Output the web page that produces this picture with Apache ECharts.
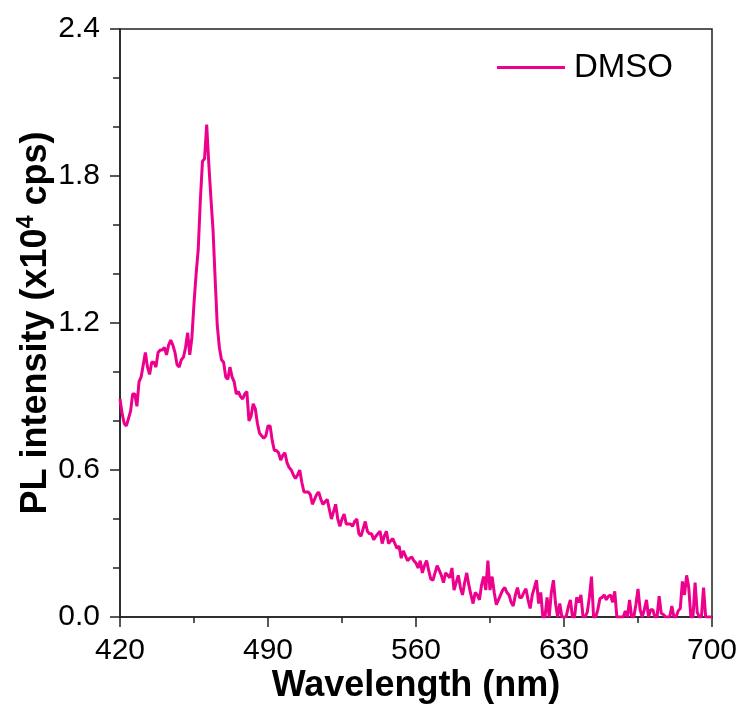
<!DOCTYPE html>
<html>
<head>
<meta charset="utf-8">
<script src="https://cdn.jsdelivr.net/npm/echarts@6/dist/echarts.min.js"></script>
<style>html,body{margin:0;padding:0;background:#fff;}#c{width:742px;height:709px;}</style>
</head>
<body>
<div id="c"></div>
<script>
// Wavelength start / step (nm)
const wlStart = 420;
const wlStep = 1;
// PL intensity (x10^4 cps), 420..700 nm, one value per nm
const dmso = [
  0.89,0.83,0.79,0.78,0.81,0.84,0.91,0.91,0.86,0.96,
  0.98,1.03,1.08,1.02,0.99,1.04,1.04,1.02,1.08,1.09,
  1.09,1.10,1.07,1.11,1.13,1.11,1.08,1.03,1.02,1.05,
  1.06,1.10,1.16,1.07,1.14,1.28,1.40,1.50,1.70,1.86,
  1.87,2.01,1.85,1.71,1.58,1.38,1.19,1.10,1.05,1.04,
  0.98,0.97,1.02,0.98,0.96,0.91,0.92,0.90,0.89,0.91,
  0.92,0.80,0.82,0.87,0.85,0.79,0.75,0.74,0.73,0.74,
  0.78,0.78,0.72,0.68,0.68,0.67,0.64,0.66,0.67,0.63,
  0.61,0.60,0.58,0.565,0.58,0.60,0.55,0.51,0.51,0.51,
  0.50,0.46,0.48,0.50,0.51,0.48,0.46,0.47,0.48,0.44,
  0.40,0.43,0.46,0.40,0.37,0.40,0.42,0.38,0.38,0.38,
  0.37,0.39,0.40,0.34,0.33,0.36,0.39,0.35,0.34,0.34,
  0.315,0.33,0.34,0.35,0.30,0.33,0.35,0.30,0.31,0.32,
  0.30,0.28,0.29,0.24,0.27,0.25,0.23,0.24,0.245,0.23,
  0.22,0.20,0.23,0.18,0.21,0.23,0.19,0.155,0.15,0.18,
  0.21,0.19,0.17,0.14,0.18,0.17,0.16,0.20,0.11,0.14,
  0.17,0.12,0.09,0.14,0.18,0.13,0.09,0.055,0.10,0.09,
  0.07,0.13,0.165,0.11,0.23,0.11,0.165,0.10,0.05,0.07,
  0.09,0.11,0.12,0.10,0.09,0.06,0.045,0.09,0.12,0.08,
  0.08,0.10,0.115,0.07,0.035,0.09,0.12,0.15,0.055,0.10,
  0,0,0.08,0,0.10,0.15,0.055,0,0.055,0,
  0,0,0.04,0.07,0,0,0.08,0.06,0.09,0,
  0,0.02,0.08,0.165,0,0,0.03,0.075,0.08,0.09,
  0.07,0.085,0.09,0.06,0.105,0,0,0,0,0.025,
  0,0.07,0,0,0.05,0.115,0.03,0,0.03,0.07,
  0,0.03,0.03,0,0,0.085,0.015,0.01,0,0,
  0,0.045,0,0,0.025,0.035,0.145,0.09,0.17,0.12,
  0,0,0.14,0.02,0,0,0.12,0,0,0,
  0
];
const xTicks = [420, 490, 560, 630, 700];
const yTicks = [0.0, 0.6, 1.2, 1.8, 2.4];
const seriesName = 'DMSO';

const points = dmso.map((v, i) => [wlStart + i * wlStep, v]);
const axisColor = '#222';
const font = 'Liberation Sans, Arial, sans-serif';

const chart = echarts.init(document.getElementById('c'), null, {renderer: 'canvas'});
chart.setOption({
  animation: false,
  backgroundColor: '#fff',
  grid: {left: 120, right: 30, top: 29, bottom: 88, show: true, borderColor: axisColor, borderWidth: 1.5, backgroundColor: 'transparent'},
  legend: {
    data: [{name: seriesName, icon: 'rect'}],
    left: 497, top: 51, padding: 0,
    itemWidth: 68, itemHeight: 3, itemGap: 10,
    textStyle: {fontFamily: font, fontSize: 33, color: '#000', padding: [0,0,0,4]}
  },
  xAxis: {
    type: 'value', min: xTicks[0], max: xTicks[xTicks.length-1], interval: 70,
    name: 'Wavelength (nm)', nameLocation: 'middle', nameGap: 51, nameMoveOverlap: false,
    nameTextStyle: {fontFamily: font, fontSize: 36, fontWeight: 'bold', color: '#000'},
    axisLine: {show: true, onZero: false, lineStyle: {color: axisColor, width: 1.5}},
    axisTick: {show: true, inside: false, length: 10, lineStyle: {color: axisColor, width: 1.5}},
    minorTick: {show: true, splitNumber: 2, length: 6, lineStyle: {color: axisColor, width: 1.5}},
    axisLabel: {margin: 19, fontFamily: font, fontSize: 30, color: '#000'},
    splitLine: {show: false}
  },
  yAxis: {
    type: 'value', min: yTicks[0], max: yTicks[yTicks.length-1], interval: 0.6,
    name: '{a|PL intensity (x10}{s|4}{a| cps)}', nameLocation: 'middle', nameGap: 63, nameMoveOverlap: false,
    nameTextStyle: {
      rich: {
        a: {fontFamily: font, fontSize: 36, fontWeight: 'bold', color: '#000', lineHeight: 42},
        s: {fontFamily: font, fontSize: 23, fontWeight: 'bold', color: '#000', lineHeight: 28, verticalAlign: 'top'}
      }
    },
    axisLine: {show: true, onZero: false, lineStyle: {color: axisColor, width: 1.5}},
    axisTick: {show: true, inside: false, length: 10, lineStyle: {color: axisColor, width: 1.5}},
    minorTick: {show: true, splitNumber: 3, length: 7, lineStyle: {color: axisColor, width: 1.5}},
    axisLabel: {margin: 20, fontFamily: font, fontSize: 30, color: '#000', formatter: v => v.toFixed(1)},
    splitLine: {show: false}
  },
  series: [{
    name: seriesName, type: 'line', data: points,
    showSymbol: false, symbol: 'none',
    lineStyle: {color: '#EC008C', width: 3},
    itemStyle: {color: '#EC008C'}
  }]
});
</script>
</body>
</html>
